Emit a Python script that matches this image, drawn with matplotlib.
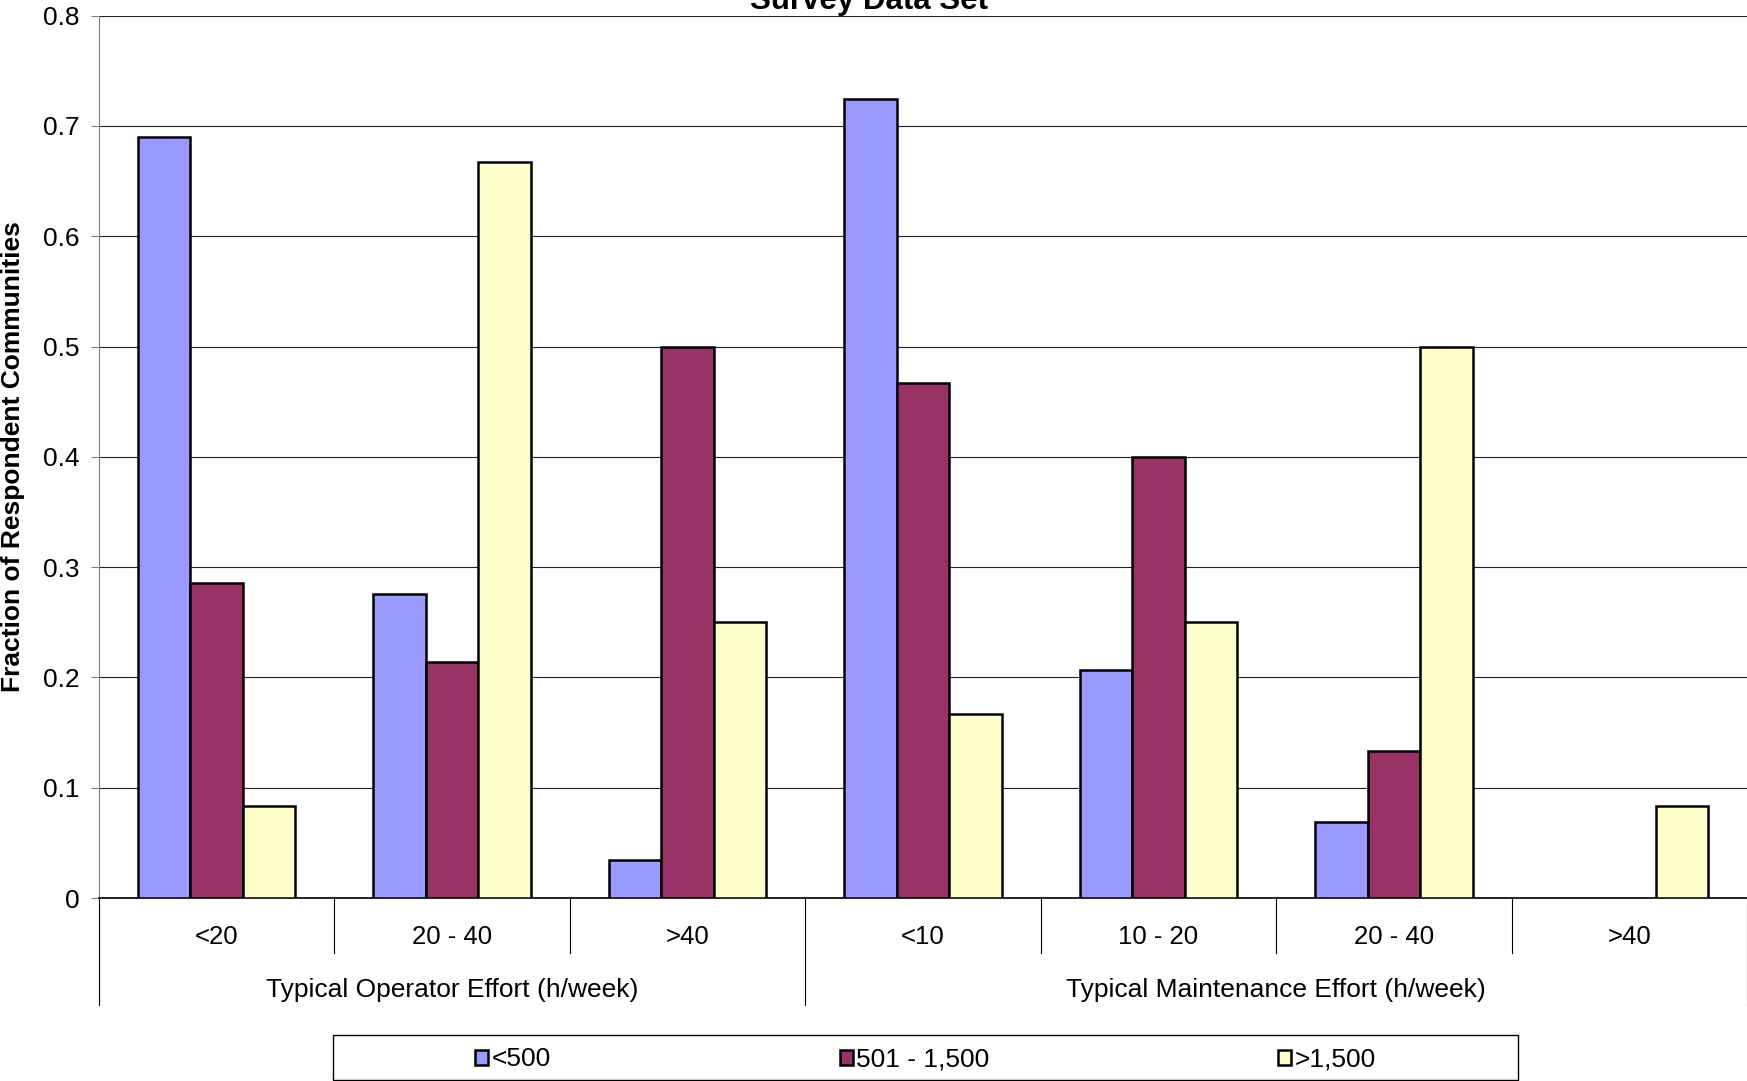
import matplotlib
matplotlib.use("Agg")
import matplotlib.pyplot as plt
import matplotlib.transforms as mtransforms
from matplotlib.patches import Rectangle
import numpy as np

plt.rcParams['font.family'] = ['Liberation Sans', 'DejaVu Sans']

# survey fractions per effort band, one list per community size
categories = ["<20", "20 - 40", ">40", "<10", "10 - 20", "20 - 40", ">40"]
groups = ["Typical Operator Effort (h/week)", "Typical Maintenance Effort (h/week)"]
group_sizes = [3, 4]
series_names = ["<500", "501 - 1,500", ">1,500"]
small = [0.690, 0.276, 0.034, 0.724, 0.207, 0.069, 0.0]
medium = [0.286, 0.214, 0.500, 0.467, 0.400, 0.133, 0.0]
large = [0.083, 0.667, 0.250, 0.167, 0.250, 0.500, 0.083]
colors = ["#9999FF", "#993366", "#FFFFCC"]
yticks = [0, 0.1, 0.2, 0.3, 0.4, 0.5, 0.6, 0.7, 0.8]

W, H = 1747, 1081
fig = plt.figure(figsize=(W / 100, H / 100), dpi=100)
left, top, zero = 99, 15.6, 898
ax = fig.add_axes([left / W, (H - zero) / H, 1 - left / W, (zero - top) / H])

x = np.arange(len(categories))
bw = 0.223
handles = []
for i, (vals, col, name) in enumerate(zip([small, medium, large], colors, series_names)):
    v = np.array(vals)
    xs = x + (i - 1) * bw
    mask = v > 0
    b = ax.bar(xs[mask], v[mask], width=bw, color=col, edgecolor="black",
               linewidth=1.8, label=name, zorder=3)
    handles.append(b)

ax.set_xlim(-0.5, len(categories) - 0.5)
ax.set_ylim(0, 0.8)
ax.set_yticks(yticks)
ax.set_yticklabels(["0"] + [f"{t:.1f}" for t in yticks[1:]])
ax.yaxis.grid(True, color="#222222", linewidth=0.8, zorder=0)
ax.tick_params(axis="y", labelsize=19, length=6, width=0.8, color="#808080", pad=8)
ax.set_xticks(x)
ax.set_xticklabels(categories)
ax.tick_params(axis="x", labelsize=18.5, length=0, pad=19.5)

for s in ["top", "right"]:
    ax.spines[s].set_visible(False)
ax.spines["left"].set_color("#808080")
ax.spines["left"].set_linewidth(0.8)
ax.spines["bottom"].set_color("black")
ax.spines["bottom"].set_linewidth(1.2)

ax.set_ylabel("Fraction of Respondent Communities", fontsize=19, fontweight="bold")
ax.yaxis.set_label_coords(-74 / (W - left), 0.5)

# category separators and group brackets below the axis
trans = mtransforms.blended_transform_factory(ax.transData, ax.transAxes)
ah = zero - top
bounds = np.arange(len(categories) + 1) - 0.5
group_edges = np.concatenate([[0], np.cumsum(group_sizes)]) - 0.5
for b in bounds:
    depth = 107 if b in group_edges else 54.6
    ax.plot([b, b], [0, -depth / ah], transform=trans, color="black",
            linewidth=0.8, clip_on=False)

start = 0
for g, n in zip(groups, group_sizes):
    mid = start + (n - 1) / 2
    ax.text(mid, -92 / ah, g, transform=trans, ha="center", va="center", fontsize=19)
    start += n

fig.text(869 / W, 1 - 9 / H, "Survey Data Set", ha="center", va="baseline",
         fontsize=22.5, fontweight="bold")

# legend box
fig.patches.append(Rectangle((333 / W, 1 / H), 1185 / W, 45 / H, transform=fig.transFigure,
                             fill=False, edgecolor="black", linewidth=1.0))
fig.legend(handles=handles, labels=series_names, loc="center",
           bbox_to_anchor=(925.5 / W, 1 - 1059.5 / H), ncol=3, frameon=False,
           fontsize=19, handlelength=0.5, handleheight=0.5, handletextpad=0.12,
           columnspacing=10.95, borderpad=0)

fig.savefig("out.png", dpi=100)
